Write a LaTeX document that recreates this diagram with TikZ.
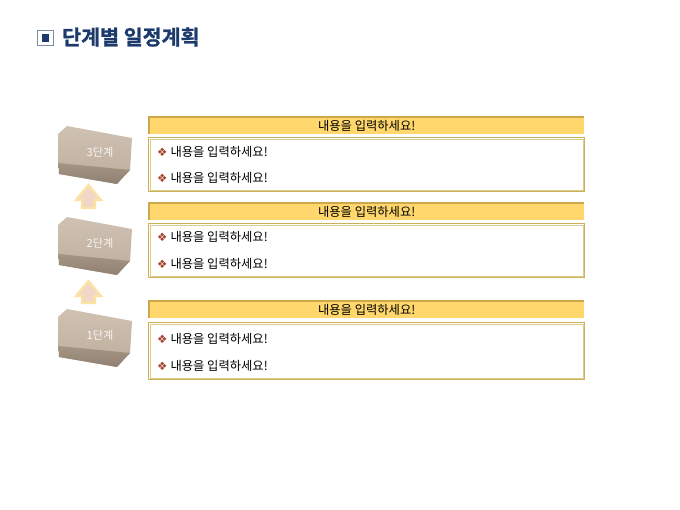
\documentclass[tikz,border=0pt]{standalone}
\usepackage{fontspec}
\setmainfont{Noto Sans CJK KR}
\newfontfamily\titlefont{Noto Sans CJK KR Bold}[FakeBold=1.2]
\newfontfamily\symfont{DejaVu Sans}
\definecolor{navy}{HTML}{1C3A6C}
\definecolor{iconline}{HTML}{7F8C99}
\definecolor{hdrfill}{HTML}{FFD76C}
\definecolor{hdrline}{HTML}{CDA84A}
\definecolor{boxline}{HTML}{CBB258}
\definecolor{boxinner}{HTML}{DCCB8E}
\definecolor{bul}{HTML}{A3412C}
\definecolor{frontA}{HTML}{D0C2B3}
\definecolor{frontB}{HTML}{BCAC9B}
\definecolor{botA}{HTML}{A59584}
\definecolor{botB}{HTML}{8F8072}
\definecolor{arrowfill}{HTML}{F2D7C6}
\definecolor{arrowline}{HTML}{FDE3A2}
\tikzset{
  hdr/.style={fill=hdrfill, minimum width=435, minimum height=17, inner sep=0, anchor=north west,
    font=\fontsize{12.3}{14}\selectfont},
  hdrline/.style={draw=hdrline, line width=1.2},
  cbox/.style={draw=boxline, line width=1.4, fill=white, minimum width=436, inner sep=0, anchor=north west},
  cinner/.style={draw=boxinner, line width=0.6},
  item/.style={anchor=west, inner sep=0, font=\fontsize{12.3}{14}\selectfont},
  blocktext/.style={text=white!85!frontA, font=\fontsize{11.2}{13}\selectfont, inner sep=0},
  uparrow/.style={fill=arrowfill, draw=arrowline, line width=2.2, line join=miter},
}
\newcommand{\bulletitem}{{\symfont\fontsize{11.5}{10}\selectfont\color{bul}❖}\hspace{3pt}내용을 입력하세요!}
\newcommand{\drawblock}[2]{%
  \begin{scope}[shift={(0,#1)}]
    \shade[top color=frontA, bottom color=frontB]
      (58,134) -- (67,126) -- (132,138) -- (130,170) -- (117,184) -- (59,174) -- cycle;
    \shade[top color=botA, bottom color=botB]
      (58.5,163) -- (130,170) -- (117,184) -- (59,174) -- cycle;
    \node[blocktext] (#2) at (100,152) {#2};
  \end{scope}}
\begin{document}
\begin{tikzpicture}[x=1pt,y=-1pt]
  \useasboundingbox (0,0) rectangle (680,510);
  % title
  \draw[iconline, line width=1, fill=white] (37.5,30.5) rectangle (53,45.5);
  \fill[navy] (41.5,34.2) rectangle (49,41.8);
  \node[anchor=west, inner sep=0, text=navy, font=\titlefont\fontsize{20.6}{22}\selectfont] (title) at (62,37) {단계별 일정계획};

  % arrows (behind blocks)
  \draw[uparrow] (88.5,185) -- (101,200) -- (95,200) -- (95,208) -- (82,208) -- (82,200) -- (76,200) -- cycle;
  \draw[uparrow] (88.5,281) -- (101,296) -- (95,296) -- (95,303) -- (82,303) -- (82,296) -- (76,296) -- cycle;

  % blocks
  \drawblock{0}{3단계}
  \drawblock{91}{2단계}
  \drawblock{183}{1단계}

  % stage 3
  \node[hdr] (h1) at (149,117) {내용을 입력하세요!};
  \draw[hdrline] (h1.south west) -- (h1.north west) -- (h1.north east);
  \node[cbox, minimum height=54] (c1) at (148,137) {};
  \draw[cinner] ([shift={(2.5,2.5)}]c1.north west) rectangle ([shift={(-2.5,-2.5)}]c1.south east);
  \node[item] (c1a) at (157,152) {\bulletitem};
  \node[item] (c1b) at (157,178) {\bulletitem};

  % stage 2
  \node[hdr] (h2) at (149,203) {내용을 입력하세요!};
  \draw[hdrline] (h2.south west) -- (h2.north west) -- (h2.north east);
  \node[cbox, minimum height=54] (c2) at (148,223) {};
  \draw[cinner] ([shift={(2.5,2.5)}]c2.north west) rectangle ([shift={(-2.5,-2.5)}]c2.south east);
  \node[item] (c2a) at (157,237) {\bulletitem};
  \node[item] (c2b) at (157,264) {\bulletitem};

  % stage 1
  \node[hdr] (h3) at (149,301) {내용을 입력하세요!};
  \draw[hdrline] (h3.south west) -- (h3.north west) -- (h3.north east);
  \node[cbox, minimum height=57] (c3) at (148,322) {};
  \draw[cinner] ([shift={(2.5,2.5)}]c3.north west) rectangle ([shift={(-2.5,-2.5)}]c3.south east);
  \node[item] (c3a) at (157,339) {\bulletitem};
  \node[item] (c3b) at (157,366) {\bulletitem};
\end{tikzpicture}
\end{document}
